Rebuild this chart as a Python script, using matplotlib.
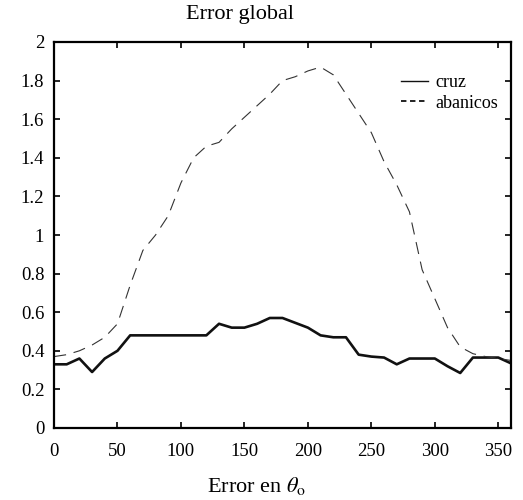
import numpy as np
import matplotlib
matplotlib.use("Agg")
from matplotlib import pyplot as plt
from matplotlib.lines import Line2D

# angle error (degrees)
theta = list(range(0, 361, 10))

# solid line
cruz = [0.33, 0.33, 0.36, 0.29, 0.36, 0.40, 0.48, 0.48, 0.48, 0.48,
        0.48, 0.48, 0.48, 0.54, 0.52, 0.52, 0.54, 0.57, 0.57, 0.545,
        0.52, 0.48, 0.47, 0.47, 0.38, 0.37, 0.365, 0.33, 0.36, 0.36,
        0.36, 0.32, 0.285, 0.365, 0.365, 0.365, 0.335]

# dashed line
abanicos = [0.37, 0.38, 0.40, 0.43, 0.47, 0.54, 0.74, 0.92, 1.00, 1.10,
            1.27, 1.40, 1.46, 1.48, 1.55, 1.61, 1.67, 1.73, 1.80, 1.82,
            1.85, 1.87, 1.83, 1.73, 1.63, 1.53, 1.38, 1.26, 1.12, 0.82,
            0.67, 0.52, 0.42, 0.385, 0.37, 0.36, 0.35]

xticks = [0, 50, 100, 150, 200, 250, 300, 350]
yticks = [0, 0.2, 0.4, 0.6, 0.8, 1, 1.2, 1.4, 1.6, 1.8, 2]
ytick_labels = ["0", "0.2", "0.4", "0.6", "0.8", "1", "1.2", "1.4", "1.6", "1.8", "2"]

plt.rcParams['font.family'] = ['Liberation Serif', 'DejaVu Serif']
plt.rcParams['mathtext.fontset'] = 'stix'

fig = plt.figure(figsize=(5.23, 5.0), dpi=100)
ax = fig.add_axes([54 / 523, 1 - 428 / 500, 457 / 523, 386 / 500])

ax.plot(theta, cruz, color='#111111', linewidth=1.9)
ax.plot(theta, abanicos, color='#333333', linewidth=0.8, linestyle=(0, (11, 7)))

ax.set_xlim(0, 360)
ax.set_ylim(0, 2)
ax.set_xticks(xticks)
ax.set_yticks(yticks)
ax.set_yticklabels(ytick_labels)
ax.tick_params(direction='in', top=True, right=True, length=4, width=1.2,
               labelsize=13.5)
ax.tick_params(axis='x', pad=11)
ax.tick_params(axis='y', pad=7)
for s in ax.spines.values():
    s.set_linewidth(1.6)

fig.text(240 / 523, 1 - 14 / 500, "Error global", ha='center', va='center', fontsize=16)
fig.text(257 / 523, 1 - 486 / 500, r"Error en $\theta_{\rm o}$", ha='center', va='center',
         fontsize=16)

# legend uses thin handles, as in the original
handles = [Line2D([], [], color='#111111', linewidth=1.0),
           Line2D([], [], color='#111111', linewidth=1.3, linestyle=(0, (3, 2)))]
ax.legend(handles, ['cruz', 'abanicos'], loc='upper right', frameon=False,
          fontsize=13, handlelength=1.5, handletextpad=0.4, labelspacing=0.2,
          bbox_to_anchor=(1.0, 0.95), borderaxespad=0.3)

plt.savefig("out.png", dpi=100)
